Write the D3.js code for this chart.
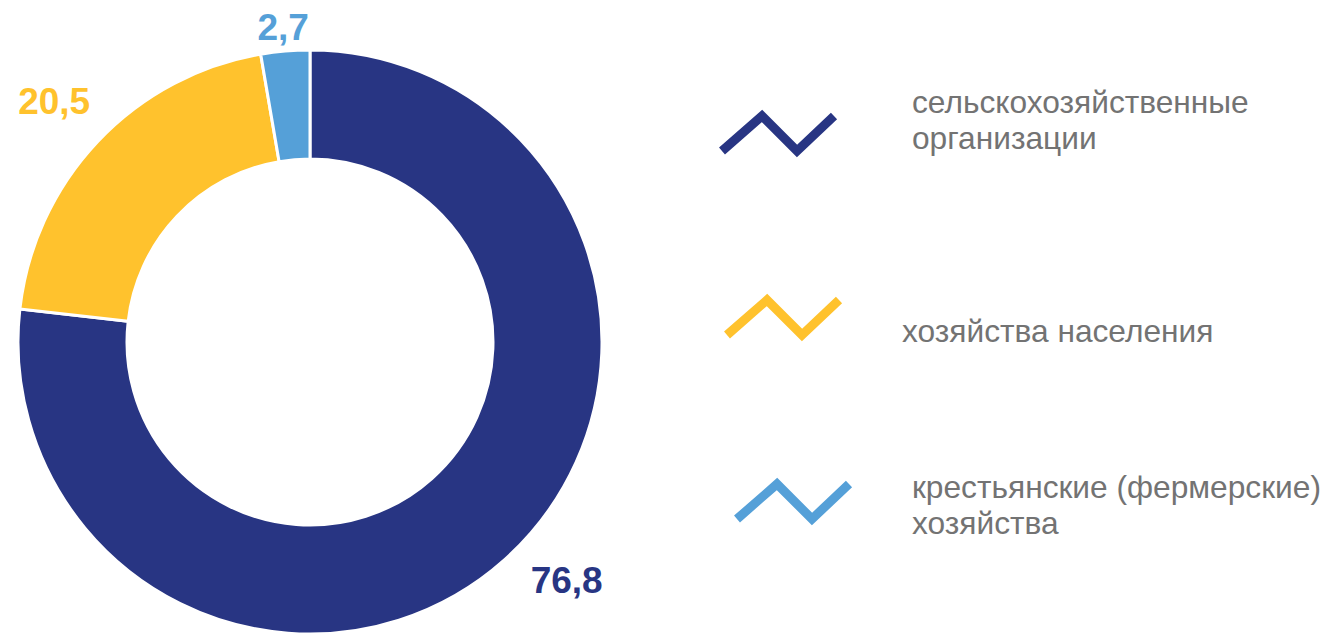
<!DOCTYPE html>
<html>
<head>
<meta charset="utf-8">
<script src="https://cdn.jsdelivr.net/npm/d3@7"></script>
<style>
  body { margin: 0; background: #fff; }
  svg { display: block; }
</style>
</head>
<body>
<div id="chart"></div>
<script>
// data
var categories = ["сельскохозяйственные организации", "хозяйства населения", "крестьянские (фермерские) хозяйства"];
var values = [76.8, 20.5, 2.7];
var valueLabels = ["76,8", "20,5", "2,7"];
var legendLines = [["сельскохозяйственные", "организации"], ["хозяйства населения"], ["крестьянские (фермерские)", "хозяйства"]];
var colors = ["#283583", "#FFC22D", "#55A0D8"];

var width = 1328, height = 633;
var cx = 310, cy = 342;
var outerR = 292, innerR = 183;
// label placement: radius and angular nudge (degrees)
var labelR = [350, 352, 316];
var labelNudge = [-5.4, 0, 0];

var svg = d3.select("#chart")
  .append("svg")
  .attr("width", width)
  .attr("height", height);

var pie = d3.pie().sort(null).value(function(d){ return d; });
var arcs = pie(values);

var arc = d3.arc().innerRadius(innerR).outerRadius(outerR);

var g = svg.append("g").attr("transform", "translate(" + cx + "," + cy + ")");

g.selectAll("path")
  .data(arcs)
  .enter().append("path")
  .attr("d", arc)
  .attr("fill", function(d, i){ return colors[i]; })
  .attr("stroke", "#fff")
  .attr("stroke-width", 3);

g.selectAll("text.val")
  .data(arcs)
  .enter().append("text")
  .attr("class", "val")
  .attr("transform", function(d, i){
    var a = (d.startAngle + d.endAngle) / 2 + labelNudge[i] * Math.PI / 180;
    return "translate(" + (Math.sin(a) * labelR[i]) + "," + (-Math.cos(a) * labelR[i]) + ")";
  })
  .attr("text-anchor", "middle")
  .attr("dy", "0.36em")
  .attr("font-family", "Liberation Sans, Arial, sans-serif")
  .attr("font-weight", "bold")
  .attr("font-size", 37)
  .attr("fill", function(d, i){ return colors[i]; })
  .text(function(d, i){ return valueLabels[i]; });

// legend
var iconX = [722, 727, 737];
var iconY = [134, 318, 502];
var textX = [912, 902, 912];
var textY = [113, 342, 498];

var zig = d3.line();
var leg = svg.selectAll("g.leg")
  .data(categories)
  .enter().append("g")
  .attr("class", "leg");

leg.append("path")
  .attr("d", function(d, i){
    var x = iconX[i], y = iconY[i];
    return zig([[x, y + 17], [x + 40, y - 18], [x + 75, y + 17], [x + 112, y - 18]]);
  })
  .attr("fill", "none")
  .attr("stroke", function(d, i){ return colors[i]; })
  .attr("stroke-width", 9);

leg.append("text")
  .attr("x", function(d, i){ return textX[i]; })
  .attr("y", function(d, i){ return textY[i]; })
  .attr("font-family", "Liberation Sans, Arial, sans-serif")
  .attr("font-size", 31.7)
  .attr("fill", "#737373")
  .selectAll("tspan")
  .data(function(d, i){ return legendLines[i].map(function(t){ return {t: t, x: textX[i]}; }); })
  .enter().append("tspan")
  .attr("x", function(d){ return d.x; })
  .attr("dy", function(d, j){ return j === 0 ? 0 : 36; })
  .text(function(d){ return d.t; });
</script>
</body>
</html>
